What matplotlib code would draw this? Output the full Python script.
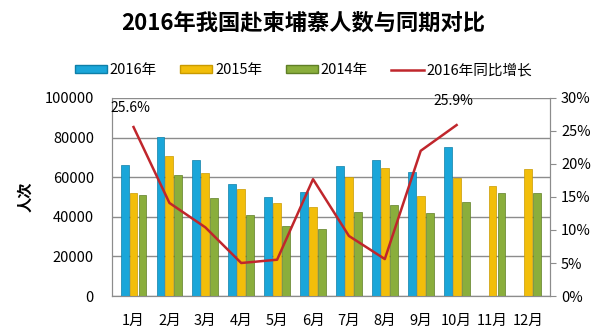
import numpy as np
import matplotlib
matplotlib.use("Agg")
import matplotlib.pyplot as plt
from matplotlib.lines import Line2D
from matplotlib.patches import Patch

plt.rcParams['font.family'] = ['Noto Sans CJK SC', 'DejaVu Sans']

months = ["1月", "2月", "3月", "4月", "5月", "6月", "7月", "8月", "9月", "10月", "11月", "12月"]
y2016 = [66000, 80500, 68500, 56800, 49800, 52500, 65500, 68500, 62500, 75500, np.nan, np.nan]
y2015 = [52200, 70500, 62200, 54000, 47000, 45000, 60200, 64800, 50500, 59600, 55600, 64300]
y2014 = [50800, 61300, 49500, 41000, 35200, 34000, 42600, 46000, 42000, 47500, 52000, 52000]
growth = [25.6, 14.1, 10.4, 5.0, 5.5, 17.7, 9.1, 5.6, 22.0, 25.9]

c16, c15, c14, cline = "#1AA6D9", "#F2BE0A", "#8AAE3C", "#C0262C"
grid_c = "#8C8C8C"

fig = plt.figure(figsize=(6.07, 3.35), dpi=100)
ax = fig.add_axes([0.1845, 0.1164, 0.7215, 0.5911])
x = np.arange(len(months))
w = 0.22
ax.bar(x - 0.25, y2016, w, color=c16, edgecolor="#0E7FA8", lw=0.5, zorder=3)
ax.bar(x, y2015, w, color=c15, edgecolor="#C99A00", lw=0.5, zorder=3)
ax.bar(x + 0.25, y2014, w, color=c14, edgecolor="#5F7F26", lw=0.5, zorder=3)

ax.set_ylim(0, 100000)
ax.set_xlim(-0.6, len(months) - 0.4)
ax.set_yticks(range(0, 100001, 20000))
ax.yaxis.grid(True, color=grid_c, lw=1.0, zorder=0)
ax.set_xticks(x)
ax.set_xticklabels(months)
ax.tick_params(axis="x", length=0, labelsize=10.5, pad=13)
ax.tick_params(axis="y", length=0, labelsize=10.5, pad=13)
ax.set_ylabel("人次", fontsize=11, fontweight="bold", labelpad=8)
ax.spines["top"].set_visible(False)
for s in ["left", "right", "bottom"]:
    ax.spines[s].set_color(grid_c)

ax2 = ax.twinx()
ax2.plot(x[:len(growth)], growth, color=cline, lw=1.8, zorder=5)
ax2.set_ylim(0, 30)
ax2.set_yticks(range(0, 31, 5))
ax2.set_yticklabels([f"{v}%" for v in range(0, 31, 5)])
ax2.tick_params(axis="y", length=4, color=grid_c, labelsize=10.5, pad=4)
ax2.spines["top"].set_visible(False)
for s in ["left", "right", "bottom"]:
    ax2.spines[s].set_color(grid_c)
ax2.annotate(f"{growth[0]}%", (x[0], growth[0]), xytext=(-2, 14), textcoords="offset points",
             ha="center", va="center", fontsize=10)
ax2.annotate(f"{growth[9]}%", (x[9], growth[9]), xytext=(-2, 17), textcoords="offset points",
             ha="center", va="center", fontsize=10)

fig.text(0.5, 0.932, "2016年我国赴柬埔寨人数与同期对比", ha="center", va="center",
         fontsize=16, fontweight="bold")

handles = [Patch(facecolor=c16, edgecolor="#0E7FA8"), Patch(facecolor=c15, edgecolor="#C99A00"),
           Patch(facecolor=c14, edgecolor="#5F7F26"), Line2D([], [], color=cline, lw=1.8)]
labels = ["2016年", "2015年", "2014年", "2016年同比增长"]
fig.legend(handles, labels, loc="center", bbox_to_anchor=(0.5, 0.79), ncol=4, frameon=False,
           fontsize=10.5, handlelength=2.2, handleheight=0.5, handletextpad=0.2, columnspacing=1.6)

fig.savefig("out.png", dpi=100)
